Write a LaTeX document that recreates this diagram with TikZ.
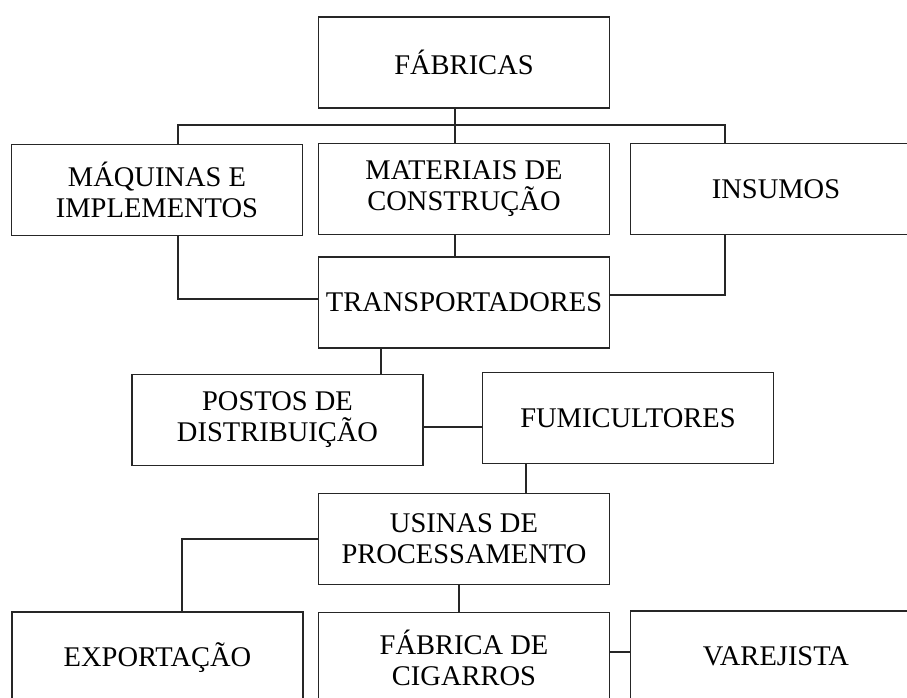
\documentclass[tikz,border=0pt]{standalone}
\usepackage{fontspec}
\setmainfont{Liberation Serif}
\begin{document}
\begin{tikzpicture}[x=1pt,y=-1pt,
 caixa/.style={draw=black!85,line width=1.3pt,minimum width=291pt,minimum height=91pt,inner sep=0pt,align=center,font=\fontsize{28.5}{31}\selectfont},
 liga/.style={draw=black!85,line width=1.3pt}]
 \useasboundingbox (0,0) rectangle (907,698);
 \clip (0,0) rectangle (907,698);
 \node[caixa] (fab) at (464,62.5) {FÁBRICAS};
 \node[caixa] (maq) at (157,190) {MÁQUINAS E\\IMPLEMENTOS};
 \node[caixa] (mat) at (464,189) {MATERIAIS DE\\CONSTRUÇÃO};
 \node[caixa] (ins) at (776,189) {INSUMOS};
 \node[caixa] (trans) at (464,302.5) {TRANSPORTADORES};
 \node[caixa] (postos) at (277.5,420) {POSTOS DE\\DISTRIBUIÇÃO};
 \node[caixa] (fumi) at (628,418) {FUMICULTORES};
 \node[caixa] (usinas) at (464,539) {USINAS DE\\PROCESSAMENTO};
 \node[caixa] (exp) at (157.5,657.5) {EXPORTAÇÃO};
 \node[caixa] (cig) at (464,658) {FÁBRICA DE\\CIGARROS};
 \node[caixa] (var) at (776,656.5) {VAREJISTA};
 \coordinate (colL) at (178,0);
 \coordinate (colM) at (455,0);
 \coordinate (colR) at (725,0);
 \coordinate (colP) at (381,0);
 \coordinate (colF) at (526,0);
 \coordinate (colE) at (182,0);
 \coordinate (colU) at (459,0);
 \coordinate (bus) at (0,125);
 \coordinate (rowPF) at (0,427);
 \coordinate (rowCV) at (0,652);
 \draw[liga] (fab.south -| colM) -- (mat.north -| colM);
 \draw[liga] (maq.north -| colL) -- (colL |- bus) -- (colR |- bus) -- (ins.north -| colR);
 \draw[liga] (maq.south -| colL) |- ([yshift=3.5pt]trans.west);
 \draw[liga] (mat.south -| colM) -- (trans.north -| colM);
 \draw[liga] (ins.south -| colR) |- ([yshift=7.5pt]trans.east);
 \draw[liga] (trans.south -| colP) -- (postos.north -| colP);
 \draw[liga] (postos.east |- rowPF) -- (fumi.west |- rowPF);
 \draw[liga] (fumi.south -| colF) -- (usinas.north -| colF);
 \draw[liga] (usinas.west) -| (exp.north -| colE);
 \draw[liga] (usinas.south -| colU) -- (cig.north -| colU);
 \draw[liga] (cig.east |- rowCV) -- (var.west |- rowCV);
\end{tikzpicture}
\end{document}
